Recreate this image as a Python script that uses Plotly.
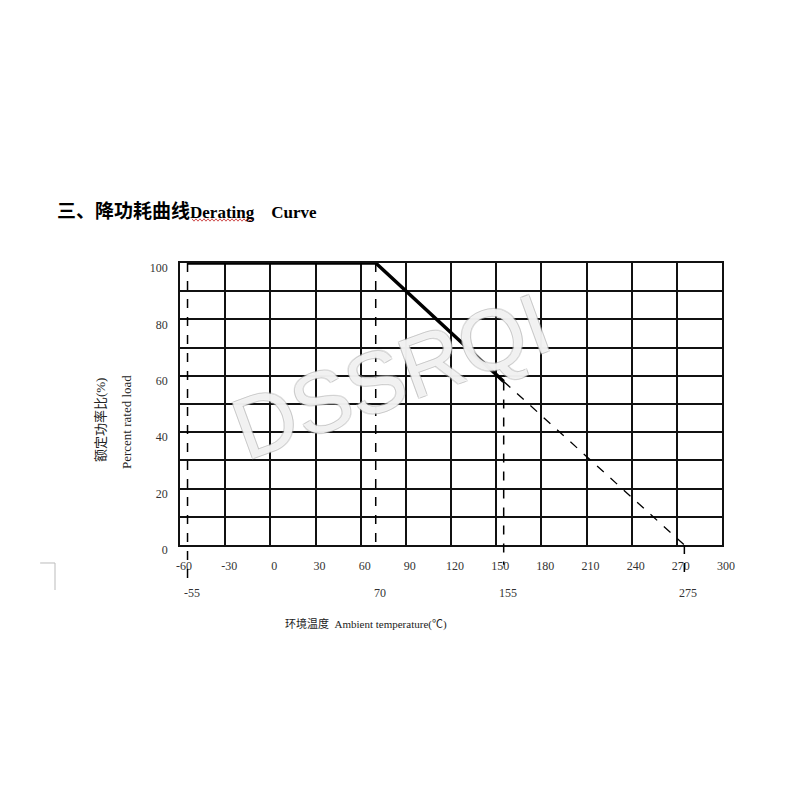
import plotly.graph_objects as go

# ---- data ----
temp_solid = [-55, 70, 155]
load_solid = [100, 100, 58]
temp_dash = [155, 275]
load_dash = [58, 0]
marker_temps = [-55, 70, 155, 275]
marker_labels = ["-55", "70", "155", "275"]
x_ticks = [-60, -30, 0, 30, 60, 90, 120, 150, 180, 210, 240, 270, 300]
y_ticks = [0, 20, 40, 60, 80, 100]

title_cn = "三、降功耗曲线"
title_en = "Derating\u00a0\u00a0\u00a0\u00a0Curve"
y_title_cn = "额定功率比(%)"
y_title_en = "Percent rated load"
x_title = "环境温度\u00a0\u00a0Ambient temperature(℃)"

SERIF = "Liberation Serif, Times New Roman, serif"

fig = go.Figure()
fig.add_trace(go.Scatter(x=temp_solid, y=load_solid, mode="lines",
                         line=dict(color="black", width=3.5), showlegend=False))
fig.add_trace(go.Scatter(x=temp_dash, y=load_dash, mode="lines",
                         line=dict(color="black", width=1.3, dash="dash"), showlegend=False))

# vertical dashed guide lines (x from data, y in paper units)
v_extents = {-55: (1.0, -0.117), 70: (1.0, -0.01), 155: (load_solid[-1] / 100, -0.07), 275: (0.0, -0.117)}
for t in marker_temps:
    y0, y1 = v_extents[t]
    fig.add_shape(type="line", xref="x", yref="paper", x0=t, x1=t, y0=y0, y1=y1,
                  line=dict(color="black", width=1.5, dash="dash"), layer="above")

# second row of labels
for t, lab in zip(marker_temps, marker_labels):
    fig.add_annotation(x=t, y=-0.170, xref="x", yref="paper", text=lab, showarrow=False,
                       xshift=4, xanchor="center", yanchor="middle",
                       font=dict(family=SERIF, size=12, color="#333"))

# watermark
wm_shadow = "rgba(175,175,175,0.55)"
fig.add_annotation(x=0.39, y=0.60, xref="paper", yref="paper", text="DSSRQI", showarrow=False,
                   textangle=-20, xanchor="center", yanchor="middle",
                   font=dict(family="Liberation Sans Narrow, Liberation Sans, Arial", size=86,
                             color="rgba(255,255,255,0.8)",
                             shadow=f"1px 1px 0 {wm_shadow}, -1px -1px 0 {wm_shadow}, "
                                    f"1px -1px 0 {wm_shadow}, -1px 1px 0 {wm_shadow}"))

# titles
fig.add_annotation(x=-0.231, y=1.181, xref="paper", yref="paper",
                   text=f'<span style="font-size:19px">{title_cn}</span>{title_en}', showarrow=False,
                   xanchor="left", yanchor="middle",
                   font=dict(family="Liberation Serif, Noto Sans CJK SC", size=17, color="black", weight="bold"))
# spell-check style wavy underline under "Derating"
x_px0, x_px1, y_px = 192, 253, 220
pts = []
for i, xp in enumerate(range(x_px0, x_px1 + 1, 2)):
    yp = y_px + (1.2 if i % 2 else -1.2)
    pts.append(((xp - 180) / 542, (545 - yp) / 282))
path = "M " + " L ".join(f"{px:.5f},{py:.5f}" for px, py in pts)
fig.add_shape(type="path", xref="paper", yref="paper", path=path,
              line=dict(color="#d05050", width=1))

fig.add_annotation(x=-0.1476, y=0.443, xref="paper", yref="paper", text=y_title_cn, showarrow=False,
                   textangle=-90, xanchor="center", yanchor="middle",
                   font=dict(family="Liberation Serif, Noto Sans CJK SC", size=13, color="#222"))
fig.add_annotation(x=-0.0996, y=0.436, xref="paper", yref="paper", text=y_title_en, showarrow=False,
                   textangle=-90, xanchor="center", yanchor="middle",
                   font=dict(family=SERIF, size=13, color="#222"))
fig.add_annotation(x=0.343, y=-0.280, xref="paper", yref="paper", text=x_title, showarrow=False,
                   xanchor="center", yanchor="middle",
                   font=dict(family="Liberation Serif, Noto Sans CJK SC", size=11, color="#222"))

# small corner mark
fig.add_shape(type="line", xref="paper", yref="paper", x0=-0.258, x1=-0.2306, y0=-0.0638, y1=-0.0638,
              line=dict(color="#bbbbbb", width=1))
fig.add_shape(type="line", xref="paper", yref="paper", x0=-0.2306, x1=-0.2306, y0=-0.0638, y1=-0.1596,
              line=dict(color="#bbbbbb", width=1))

fig.update_xaxes(range=[-60, 300], tickvals=x_ticks, ticktext=[str(v) for v in x_ticks],
                 showgrid=True, gridcolor="#111", gridwidth=1.5, zeroline=False,
                 showline=True, linecolor="#111", linewidth=1.5, mirror=True, ticks="",
                 ticklabelshift=4, ticklabelstandoff=9,
                 tickfont=dict(family=SERIF, size=12, color="#333"))
fig.update_yaxes(range=[0, 100], tickvals=y_ticks, ticktext=[str(v) for v in y_ticks],
                 showgrid=True, gridcolor="#111", gridwidth=1.5, zeroline=False,
                 minor=dict(dtick=10, tick0=0, showgrid=True, gridcolor="#111", gridwidth=1.5),
                 showline=True, linecolor="#111", linewidth=1.5, mirror=True, ticks="",
                 ticklabelshift=5, ticklabelstandoff=8,
                 tickfont=dict(family=SERIF, size=12, color="#333"))

fig.update_layout(width=800, height=800, margin=dict(l=172, r=86, t=255, b=263),
                  plot_bgcolor="white", paper_bgcolor="white", showlegend=False)

fig.write_html("out.html")
